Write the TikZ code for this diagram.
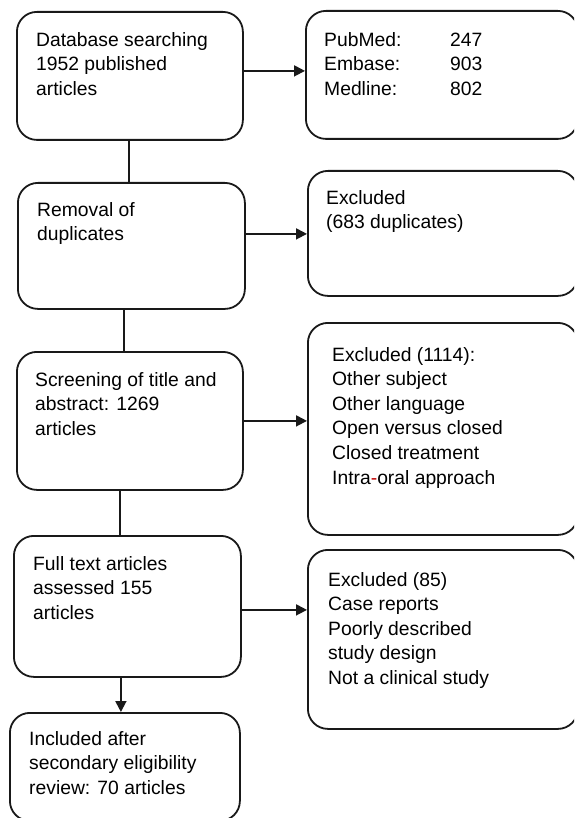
\documentclass[tikz,border=0pt]{standalone}
\usepackage{fontspec}
\setmainfont{Liberation Sans}
\usetikzlibrary{arrows.meta}
\begin{document}
\begin{tikzpicture}[x=1pt,y=-1pt,
  box/.style={draw=black!90, line width=1.8pt, rounded corners=20pt, anchor=north west, inner sep=0pt},
  txt/.style={anchor=north west, inner sep=0pt, align=left, font=\fontsize{19.3}{24.6}\selectfont, text=black},
  conn/.style={draw=black!90, line width=1.8pt},
  arr/.style={conn, -{Triangle[length=11pt,width=11pt]}}]
\useasboundingbox (0,0) rectangle (574,818);
\clip (0,0) rectangle (574,818);
% boxes
\node[box, minimum width=226pt, minimum height=128pt] (A) at (16,11) {};
\node[box, minimum width=272pt, minimum height=128pt] (B) at (305,10) {};
\node[box, minimum width=227pt, minimum height=126pt] (C) at (17,182) {};
\node[box, minimum width=270pt, minimum height=125pt] (D) at (307,170) {};
\node[box, minimum width=226pt, minimum height=138pt] (E) at (16,351) {};
\node[box, minimum width=270pt, minimum height=212pt] (F) at (307,322) {};
\node[box, minimum width=227pt, minimum height=141pt] (G) at (13,535) {};
\node[box, minimum width=270pt, minimum height=179pt] (H) at (307,549) {};
\node[box, minimum width=230pt, minimum height=108pt] (I) at (9,712) {};
% texts
\node[txt] (tA) at (36,32) {Database searching\\1952 published\\articles};
\node[txt] (tB) at (324,32) {\makebox[126pt][l]{PubMed:}247\\\makebox[126pt][l]{Embase:}903\\\makebox[126pt][l]{Medline:}802};
\node[txt] (tC) at (37,202) {Removal of\\duplicates};
\node[txt] (tD) at (326,190) {Excluded\\(683 duplicates)};
\node[txt] (tE) at (35,372) {Screening of title and\\abstract: 1269\\articles};
\node[txt] (tF) at (332,347) {Excluded (1114):\\Other subject\\Other language\\Open versus closed\\Closed treatment\\Intra\textcolor{red!75!black}{-}oral approach};
\node[txt] (tG) at (33,556) {Full text articles\\assessed 155\\articles};
\node[txt] (tH) at (328,572) {Excluded (85)\\Case reports\\Poorly described\\study design\\Not a clinical study};
\node[txt] (tI) at (29,731) {Included after\\secondary eligibility\\review: 70 articles};
% connectors
\draw[conn] ([xshift=-1pt]A.south) -- ([xshift=-1pt]A.south |- C.north);
\draw[conn] ([xshift=-7.5pt]C.south) -- ([xshift=-7.5pt]C.south |- E.north);
\draw[conn] ([xshift=-10pt]E.south) -- ([xshift=-10pt]E.south |- G.north);
\draw[arr] ([xshift=-6.5pt]G.south) -- ([xshift=-6.5pt]G.south |- I.north);
\draw[arr] ([yshift=5pt]A.east) -- ([yshift=5pt]A.east -| B.west);
\draw[arr] ([yshift=12pt]C.east) -- ([yshift=12pt]C.east -| D.west);
\draw[arr] (E.east) -- (E.east -| F.west);
\draw[arr] ([yshift=-3.5pt]G.east) -- ([yshift=-3.5pt]G.east -| H.west);
\end{tikzpicture}
\end{document}
